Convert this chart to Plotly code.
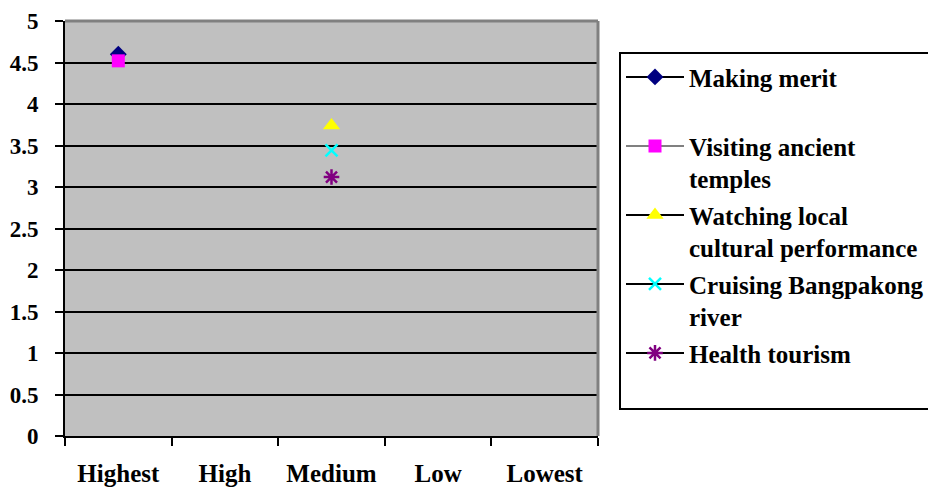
import plotly.graph_objects as go

categories = ["Highest", "High", "Medium", "Low", "Lowest"]
making_merit = [4.6, None, None, None, None]
visiting_temples = [4.52, None, None, None, None]
watching_performance = [None, None, 3.74, None, None]
cruising_river = [None, None, 3.44, None, None]
health_tourism = [None, None, 3.12, None, None]
y_ticks = [0, 0.5, 1, 1.5, 2, 2.5, 3, 3.5, 4, 4.5, 5]
y_tick_text = ["0", "0.5", "1", "1.5", "2", "2.5", "3", "3.5", "4", "4.5", "5"]

series = [
    ("Making merit<br>\u00a0", making_merit, "diamond", 13, "#000080", "#000080", 0, "#000000"),
    ("Visiting ancient<br>temples", visiting_temples, "square", 13, "#FF00FF", "#FF00FF", 0, "#808080"),
    ("Watching local<br>cultural performance", watching_performance, "triangle-up", 15, "#FFFF00", "#FFFF00", 0, "#000000"),
    ("Cruising Bangpakong<br>river", cruising_river, "x-thin", 12, "#00FFFF", "#00FFFF", 2.5, "#000000"),
    ("Health tourism<br>\u00a0", health_tourism, "asterisk", 13, "#800080", "#800080", 2.5, "#000000"),
]

fig = go.Figure()
for i, (name, vals, sym, size, fill, lcol, lw, linecol) in enumerate(series):
    fig.add_trace(go.Scatter(
        x=categories, y=vals, name=name, mode="lines+markers",
        legendgroup=f"g{i}",
        line=dict(color=linecol, width=2),
        marker=dict(symbol=sym, size=size, color=fill, line=dict(color=lcol, width=lw)),
        connectgaps=False,
    ))

font_family = "Liberation Serif, Times New Roman, serif"

fig.update_layout(
    width=936, height=489,
    margin=dict(l=57, r=346, t=13, b=61, autoexpand=False),
    paper_bgcolor="white",
    plot_bgcolor="#C0C0C0",
    font=dict(family=font_family, color="black", size=24, weight="bold"),
    showlegend=True,
    legend=dict(
        x=1.0394, y=0.925, xanchor="left", yanchor="top",
        bordercolor="black", borderwidth=2, bgcolor="white",
        font=dict(family=font_family, size=25, color="black", weight="bold"),
        itemwidth=58, valign="top", tracegroupgap=1,
    ),
    xaxis=dict(
        type="category", categoryorder="array", categoryarray=categories,
        range=[-0.5, 4.5], tickson="boundaries", automargin=False,
        showgrid=False, showline=True, linecolor="black", linewidth=2,
        ticks="outside", ticklen=8, tickwidth=2, tickcolor="black",
        tickfont=dict(family=font_family, size=25, color="black", weight="bold"),
        ticklabelstandoff=14, zeroline=False,
    ),
    yaxis=dict(
        range=[0, 5], tickvals=y_ticks, ticktext=y_tick_text, automargin=False,
        showgrid=True, gridcolor="black", gridwidth=2,
        showline=True, linecolor="black", linewidth=2,
        ticks="outside", ticklen=8, tickwidth=2, tickcolor="black",
        tickfont=dict(family=font_family, size=23, color="black", weight="bold"),
        ticklabelstandoff=12, zeroline=False,
    ),
    shapes=[
        dict(type="line", xref="paper", yref="paper", x0=0, x1=1, y0=1, y1=1,
             line=dict(color="#808080", width=3), layer="above"),
        dict(type="line", xref="paper", yref="paper", x0=1, x1=1, y0=0, y1=1,
             line=dict(color="#808080", width=3), layer="above"),
    ],
)

fig.write_html("out.html")
